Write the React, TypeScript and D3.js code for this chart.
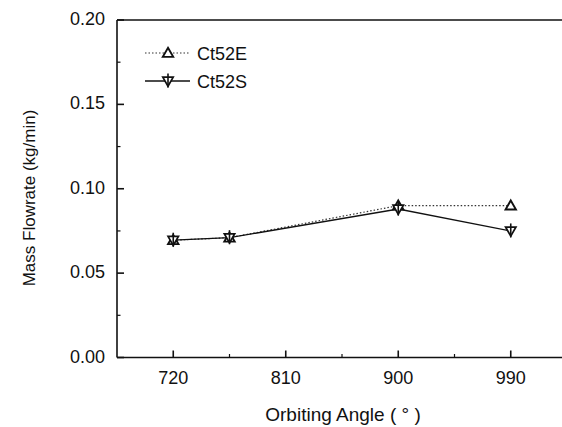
import React from "react";
import * as d3 from "d3";

const angles = [720, 765, 900, 990];
const ct52E = [0.0695, 0.071, 0.090, 0.090];
const ct52S = [0.0695, 0.071, 0.088, 0.075];
const xTicks = [720, 810, 900, 990];
const xMinor = [765, 855, 945];
const yTicks = [0, 0.05, 0.1, 0.15, 0.2];
const yMinor = [0.025, 0.075, 0.125, 0.175];
const seriesNames = ["Ct52E", "Ct52S"];

const W = 562, H = 427;
const left = 117, top = 20, bottom = 357.5, right = 567;

export default function App() {
  const x = d3.scaleLinear().domain([675, 1035]).range([left, right]);
  const y = d3.scaleLinear().domain([0, 0.2]).range([bottom, top]);
  const line = d3.line<number>().x((_, i) => x(angles[i])).y((d) => y(d));
  const font = "'Liberation Sans', Arial, sans-serif";

  const triUp = (cx: number, cy: number) => {
    const s = 5.2;
    return `M${cx},${cy - s}L${cx + s},${cy + s * 0.75}L${cx - s},${cy + s * 0.75}Z`;
  };
  const triDown = (cx: number, cy: number) => {
    const s = 5.2;
    return `M${cx - s},${cy - s * 0.75}L${cx + s},${cy - s * 0.75}L${cx},${cy + s}Z`;
  };
  const markerS = (cx: number, cy: number, key: string) => (
    <g key={key}>
      <path d={triDown(cx, cy)} fill="white" stroke="#111" strokeWidth={1.7} />
      <line x1={cx} x2={cx} y1={cy - 7.5} y2={cy + 6.5} stroke="#111" strokeWidth={1.6} />
    </g>
  );

  return (
    <svg width={W} height={H} style={{ position: "absolute", left: 0, top: 0, background: "white" }}>
      <line x1={left} x2={left} y1={top} y2={bottom} stroke="#111" strokeWidth={1.6} />
      <line x1={left} x2={W} y1={bottom} y2={bottom} stroke="#111" strokeWidth={1.6} />
      <line x1={left} x2={W} y1={top} y2={top} stroke="#111" strokeWidth={1.6} />
      {xTicks.map((t) => (
        <g key={"xt" + t}>
          <line x1={x(t)} x2={x(t)} y1={bottom} y2={bottom - 7} stroke="#111" strokeWidth={1.6} />
          <text x={x(t)} y={bottom + 26} textAnchor="middle" fontFamily={font} fontSize={18} fill="#111">
            {t}
          </text>
        </g>
      ))}
      {xMinor.map((t) => (
        <line key={"xm" + t} x1={x(t)} x2={x(t)} y1={bottom} y2={bottom - 3.5} stroke="#111" strokeWidth={1.2} />
      ))}
      {yTicks.map((t) => (
        <g key={"yt" + t}>
          <line x1={left} x2={left + 7} y1={y(t)} y2={y(t)} stroke="#111" strokeWidth={1.6} />
          <text x={left - 12} y={y(t) + 5} textAnchor="end" fontFamily={font} fontSize={18} fill="#111">
            {t.toFixed(2)}
          </text>
        </g>
      ))}
      {yMinor.map((t) => (
        <line key={"ym" + t} x1={left} x2={left + 3.5} y1={y(t)} y2={y(t)} stroke="#111" strokeWidth={1.2} />
      ))}
      <text x={343} y={421} textAnchor="middle" fontFamily={font} fontSize={19} fill="#111">
        Orbiting Angle ( ° )
      </text>
      <text
        transform={`translate(35,198) rotate(-90)`}
        textAnchor="middle"
        fontFamily={font}
        fontSize={17}
        fill="#111"
      >
        Mass Flowrate (kg/min)
      </text>
      <path d={line(ct52E) || ""} fill="none" stroke="#333" strokeWidth={1.2} strokeDasharray="1.5,2" />
      <path d={line(ct52S) || ""} fill="none" stroke="#111" strokeWidth={1.3} />
      {ct52E.map((v, i) => (
        <path key={"e" + i} d={triUp(x(angles[i]), y(v))} fill="white" stroke="#111" strokeWidth={1.9} />
      ))}
      {ct52S.map((v, i) => markerS(x(angles[i]), y(v), "s" + i))}
      <line x1={145} x2={190} y1={53} y2={53} stroke="#333" strokeWidth={1.2} strokeDasharray="1.5,2" />
      <path d={triUp(168, 53)} fill="white" stroke="#111" strokeWidth={1.9} />
      <text x={197} y={59.5} fontFamily={font} fontSize={18} fill="#111">{seriesNames[0]}</text>
      <line x1={145} x2={190} y1={81} y2={81} stroke="#111" strokeWidth={1.3} />
      {markerS(168, 81, "ls")}
      <text x={197} y={87.5} fontFamily={font} fontSize={18} fill="#111">{seriesNames[1]}</text>
    </svg>
  );
}
